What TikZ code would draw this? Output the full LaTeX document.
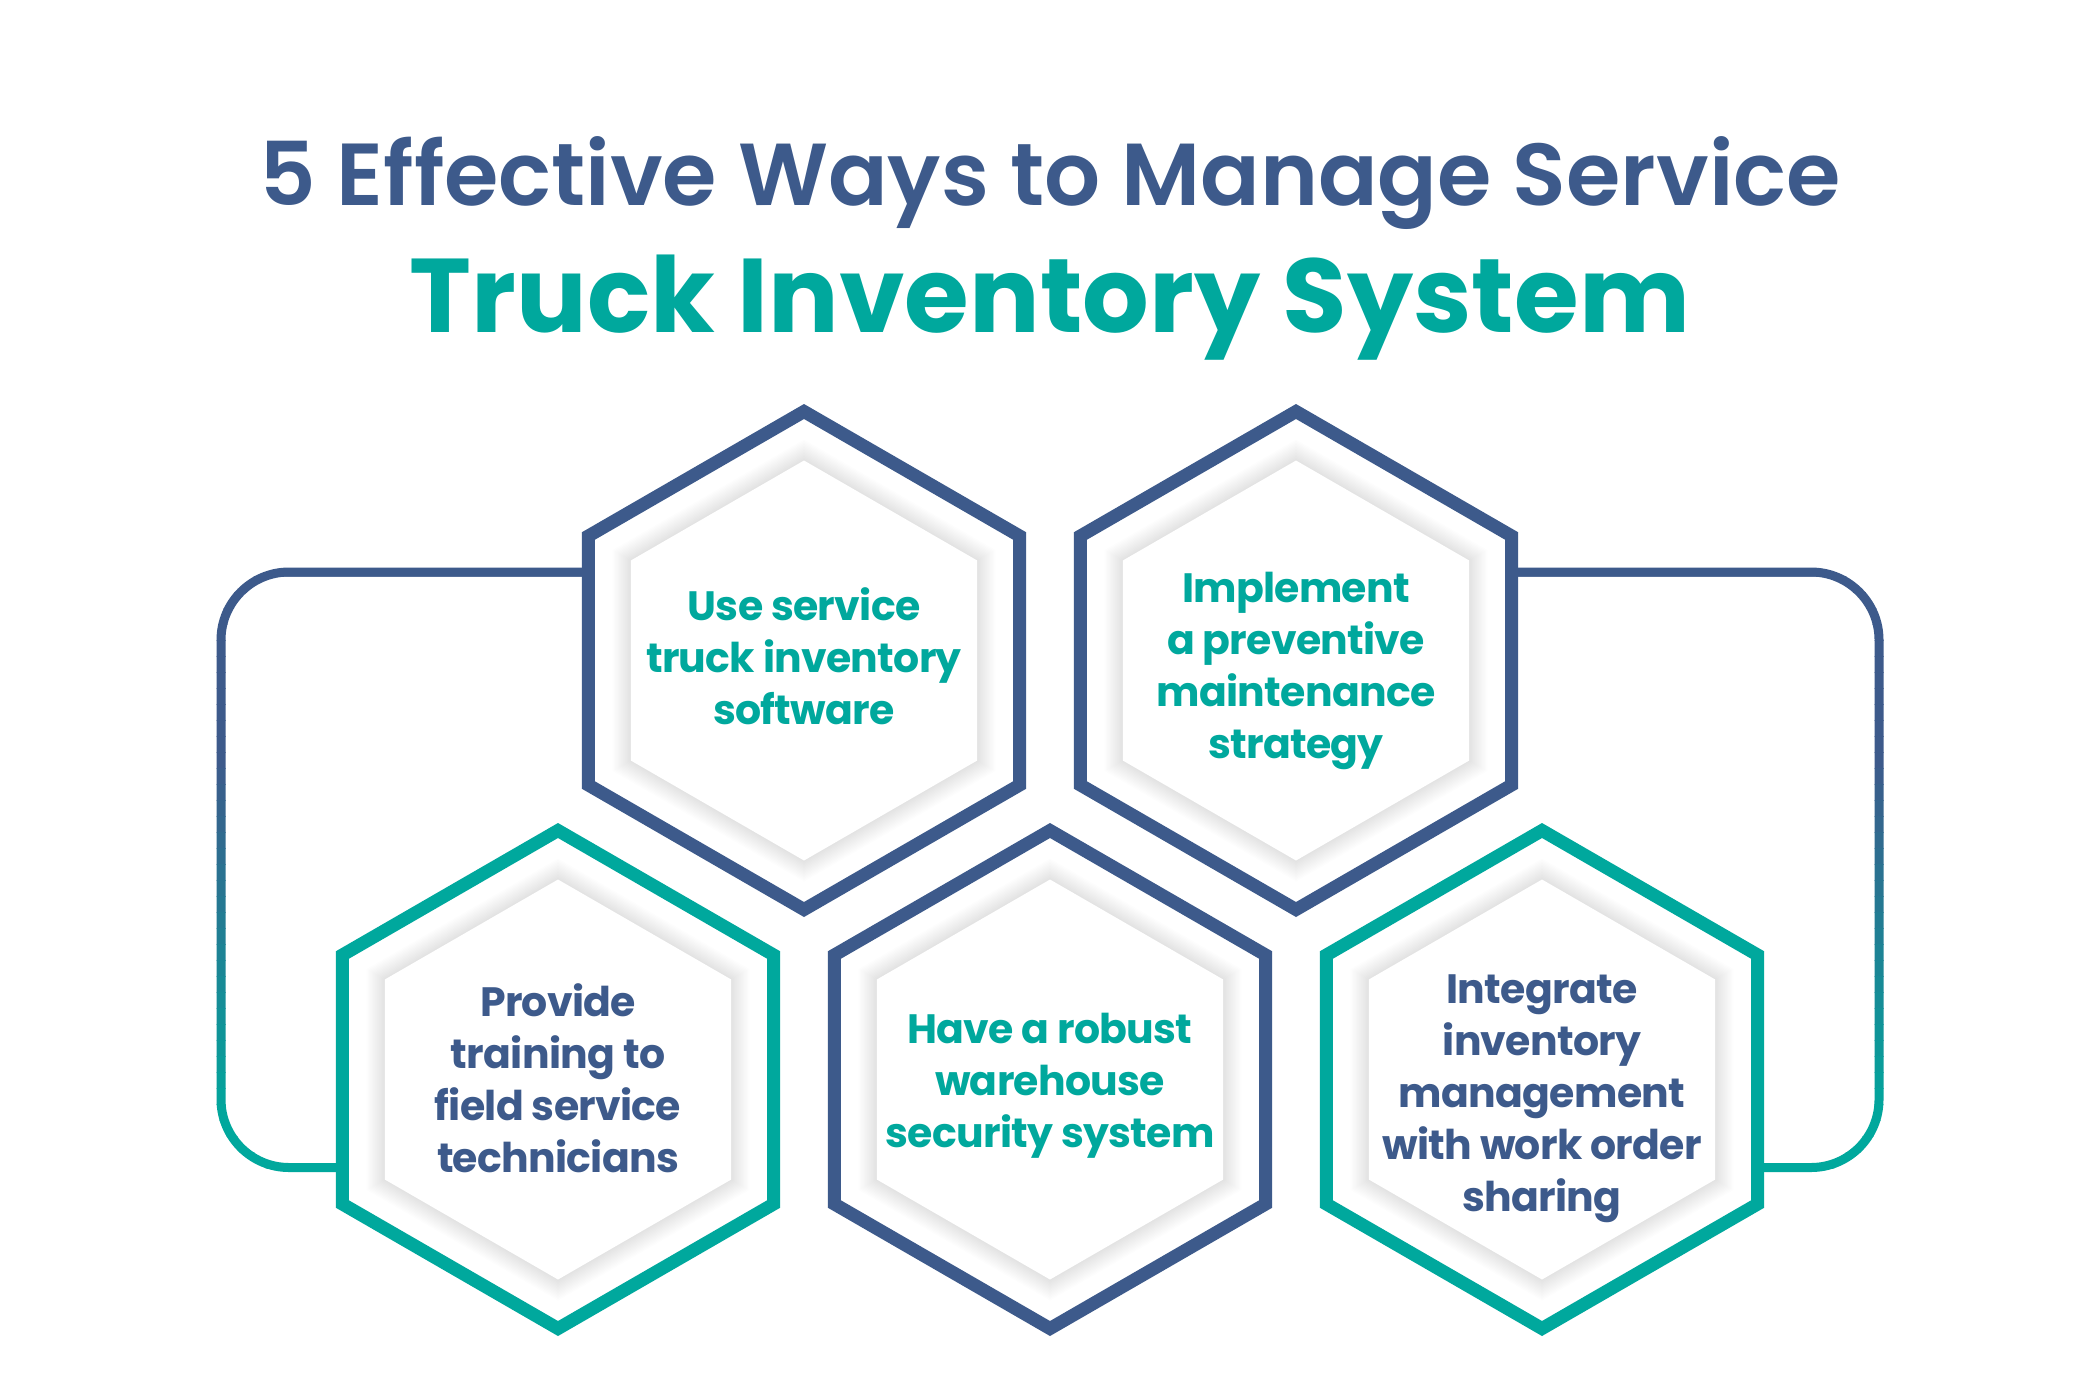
\documentclass[tikz,border=0pt]{standalone}
\usepackage{fontspec}
\setmainfont{Poppins}
\newfontfamily\popsemi{Poppins SemiBold}
\newfontfamily\poptight{Poppins}[LetterSpace=-1.8]
\usetikzlibrary{shapes.geometric}
\definecolor{navy}{RGB}{61,90,139}
\definecolor{tealc}{RGB}{0,168,157}
\newcommand\hexpath[3]{(#1,{#2-(#3)}) -- ++(30:{#3}) -- ++(90:{#3}) -- ++(150:{#3}) -- ++(210:{#3}) -- ++(270:{#3}) -- cycle}
\tikzset{
  hexframe/.style={regular polygon, regular polygon sides=6, shape border rotate=30,
    minimum size=498pt, inner sep=0pt, outer sep=0pt, line width=13pt, draw=#1},
  hextext/.style={align=center, text=#1, font=\poptight\bfseries\fontsize{41}{52}\selectfont},
  conn/.style={line width=9pt, rounded corners=68pt},
}
\begin{document}
\begin{tikzpicture}[x=1pt,y=-1pt]
\useasboundingbox[fill=white] (0,0) rectangle (2100,1387);
% titles
\node[anchor=base, text=navy, font=\popsemi\fontsize{88}{100}\selectfont] (title1) at (1050,205) {5 Effective Ways to Manage Service};
\node[anchor=base, text=tealc, font=\bfseries\fontsize{104.8}{120}\selectfont] (title2) at (1050,332) {Truck Inventory System};
% shadows and inner faces
\foreach \cx/\cy in {804/660.5, 1296/660.5, 558/1079.5, 1050/1079.5, 1542/1079.5}{
  \foreach \k in {1,...,14}{
    \fill[black, opacity=0.009] \hexpath{\cx}{\cy}{200+1.5*\k};
  }
  \fill[white] \hexpath{\cx}{\cy}{200};
}
% frames
\node[hexframe=navy] (h1) at (804,660.5) {};
\node[hexframe=navy] (h2) at (1296,660.5) {};
\node[hexframe=tealc] (h3) at (558,1079.5) {};
\node[hexframe=navy] (h4) at (1050,1079.5) {};
\node[hexframe=tealc] (h5) at (1542,1079.5) {};
% connectors (vertical gradient navy -> teal)
\coordinate (lt) at (221,572);
\coordinate (lb) at (221,1167.5);
\coordinate (rt) at (1879,572);
\coordinate (rb) at (1879,1167.5);
\foreach \i in {0,...,39}{
  \pgfmathsetmacro\ya{560+\i*16}
  \pgfmathsetmacro\yb{\ya+16.6}
  \pgfmathtruncatemacro\p{max(0,min(100,(\ya+8-760)/(1120-760)*100))}
  \begin{scope}
    \clip (0,\ya) rectangle (2100,\yb);
    \draw[conn, draw=tealc!\p!navy] (h1.west |- lt) -- (lt) -- (lb) -- (h3.west |- lb);
    \draw[conn, draw=tealc!\p!navy] (h2.east |- rt) -- (rt) -- (rb) -- (h5.east |- rb);
  \end{scope}
}
% texts
\node[hextext=tealc] (t1) at (804,656) {Use service\\truck inventory\\software};
\node[hextext=tealc] (t2) at (1296,671) {Implement\\a preventive\\maintenance\\strategy};
\node[hextext=navy] (t3) at (558,1078.5) {Provide\\training to\\field service\\technicians};
\node[hextext=tealc] (t4) at (1050,1086) {Have a robust\\warehouse\\security system};
\node[hextext=navy] (t5) at (1542,1098.5) {Integrate\\inventory\\management\\with work order\\sharing};
\end{tikzpicture}
\end{document}
